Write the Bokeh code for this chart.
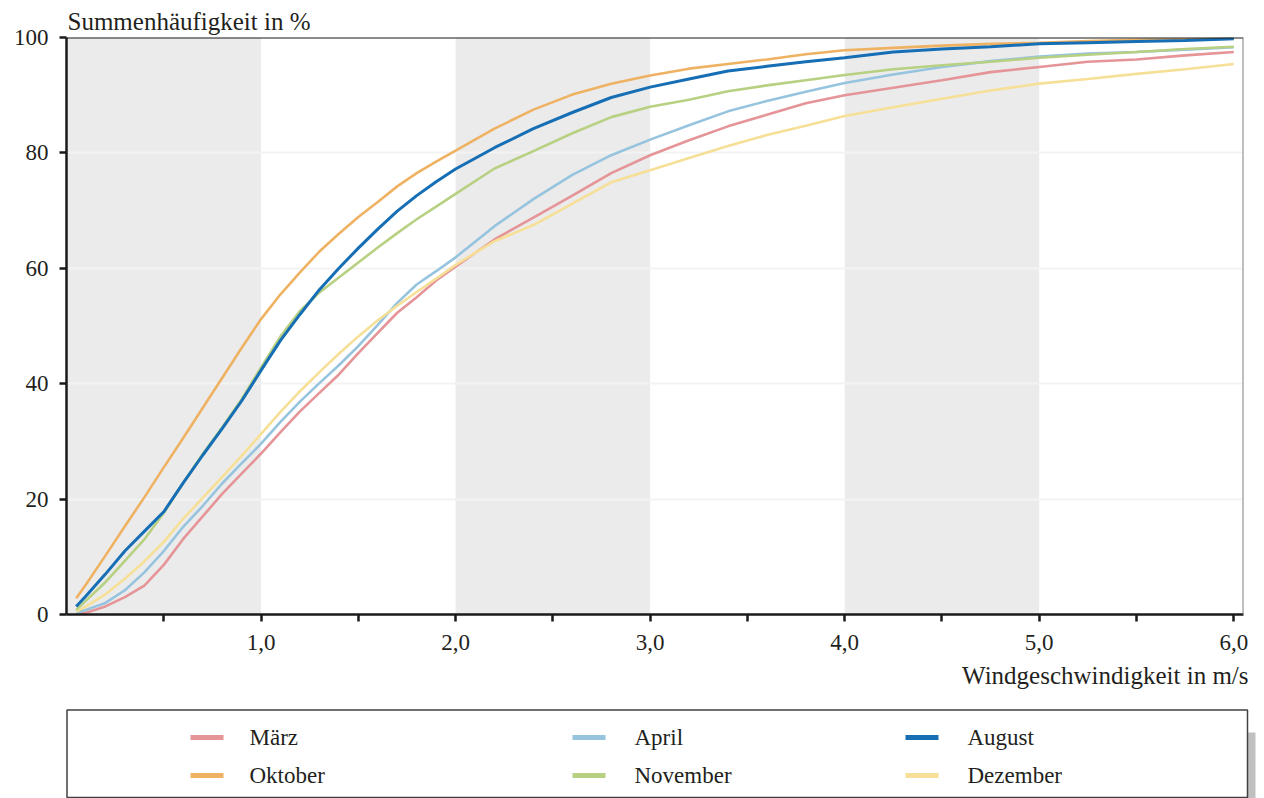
from bokeh.plotting import figure
from bokeh.models import Range1d, FixedTicker, BoxAnnotation, Span, Title, CustomJSTickFormatter
from bokeh.embed import file_html
from bokeh.resources import INLINE
from bokeh.core.properties import value

# ---------------- data ----------------
speed = [0.05, 0.1, 0.2, 0.3, 0.4, 0.5, 0.6, 0.7, 0.8, 0.9, 1.0, 1.1, 1.2, 1.3, 1.4,
         1.5, 1.6, 1.7, 1.8, 1.9, 2.0, 2.2, 2.4, 2.6, 2.8, 3.0, 3.2, 3.4, 3.6, 3.8,
         4.0, 4.25, 4.5, 4.75, 5.0, 5.25, 5.5, 5.75, 6.0]

maerz = [0.1, 0.3, 1.4, 3.0, 5.0, 8.6, 13.1, 17.0, 20.9, 24.4, 27.9, 31.6, 35.2, 38.4, 41.6,
         45.3, 48.8, 52.3, 55.0, 57.9, 60.3, 65.0, 68.8, 72.6, 76.5, 79.6, 82.2, 84.6, 86.6, 88.6,
         90.0, 91.3, 92.6, 94.0, 94.9, 95.8, 96.2, 96.9, 97.5]
april = [0.3, 0.8, 2.0, 4.2, 7.3, 11.0, 15.2, 18.8, 22.7, 26.2, 29.6, 33.4, 36.9, 40.1, 43.2,
         46.5, 50.2, 54.0, 57.2, 59.5, 61.9, 67.3, 72.0, 76.2, 79.6, 82.3, 84.8, 87.2, 89.0, 90.6,
         92.1, 93.6, 94.9, 95.9, 96.7, 97.2, 97.5, 97.9, 98.3]
august = [1.4, 3.2, 7.0, 11.0, 14.4, 17.8, 22.8, 27.6, 32.2, 37.0, 42.3, 47.5, 52.0, 56.3, 60.0,
          63.5, 66.8, 69.9, 72.6, 75.0, 77.2, 80.9, 84.2, 87.0, 89.6, 91.4, 92.8, 94.2, 95.0, 95.8,
          96.5, 97.5, 98.0, 98.4, 98.9, 99.1, 99.3, 99.5, 99.8]
oktober = [2.8, 5.2, 10.2, 15.3, 20.3, 25.5, 30.6, 35.8, 41.0, 46.2, 51.2, 55.5, 59.3, 62.9, 66.0,
           68.9, 71.5, 74.2, 76.5, 78.5, 80.4, 84.2, 87.5, 90.1, 92.0, 93.4, 94.6, 95.4, 96.2, 97.1,
           97.8, 98.2, 98.6, 98.9, 99.1, 99.4, 99.6, 99.7, 99.8]
november = [0.8, 2.4, 5.6, 9.3, 13.0, 17.6, 22.8, 27.8, 32.4, 37.3, 42.8, 48.2, 52.6, 55.8, 58.4,
            61.0, 63.6, 66.1, 68.5, 70.7, 72.9, 77.3, 80.3, 83.4, 86.2, 88.0, 89.2, 90.7, 91.7, 92.6,
            93.5, 94.5, 95.2, 95.8, 96.5, 97.0, 97.5, 98.0, 98.4]
dezember = [0.5, 1.4, 3.5, 6.2, 9.2, 12.6, 16.6, 20.2, 23.8, 27.5, 31.3, 35.1, 38.7, 42.0, 45.2,
            48.2, 51.0, 53.5, 55.9, 58.2, 60.6, 64.7, 67.5, 71.2, 74.9, 77.0, 79.1, 81.2, 83.1, 84.7,
            86.4, 87.9, 89.4, 90.8, 92.0, 92.8, 93.7, 94.5, 95.4]

months = ["März", "April", "August", "Oktober", "November", "Dezember"]
series = [maerz, april, august, oktober, november, dezember]
colors = ["#e59498", "#96c4de", "#166eb5", "#eeb262", "#b8d082", "#f6df96"]
widths = [2.6, 2.6, 3.0, 2.6, 2.6, 2.6]
draw_order = ["März", "April", "Dezember", "November", "Oktober", "August"]

band_starts = [0, 2, 4]
band_ends = [1, 3, 5]
x_ticks = [0.5, 1.0, 1.5, 2.0, 2.5, 3.0, 3.5, 4.0, 4.5, 5.0, 5.5, 6.0]
y_ticks = [0, 20, 40, 60, 80, 100]
grid_ticks = [20, 40, 60, 80]

y_title = "Summenhäufigkeit in %"
x_title = "Windgeschwindigkeit in m/s"

FONT = "Liberation Serif"
TXT = "#231f20"
X_END = 6.05

# ---------------- main chart ----------------
p = figure(width=1256, height=705, x_range=Range1d(0, X_END), y_range=Range1d(0, 100),
           output_backend="svg", toolbar_location=None,
           min_border_left=66, min_border_top=37, min_border_right=13, min_border_bottom=91)
p.outline_line_color = None
p.background_fill_color = "white"
p.border_fill_color = "white"

boxes = []
for s, e in zip(band_starts, band_ends):
    boxes.append(BoxAnnotation(left=s, right=e, fill_color="#ebebeb", fill_alpha=1.0,
                               line_color=None, level="underlay"))
p.center = boxes + list(p.center)

p.xgrid.grid_line_color = None
p.ygrid.ticker = FixedTicker(ticks=grid_ticks)
p.ygrid.grid_line_color = "#f3f3f3"
p.ygrid.grid_line_width = 2

for name in draw_order:
    i = months.index(name)
    p.line(speed, series[i], line_color=colors[i], line_width=widths[i])

p.add_layout(Span(location=100, dimension="width", line_color="#1a1a1a", line_width=2))
p.add_layout(Span(location=X_END, dimension="height", line_color="#808080", line_width=2))

xa = p.xaxis[0]
xa.ticker = FixedTicker(ticks=x_ticks)
xa.formatter = CustomJSTickFormatter(
    code="return (Math.abs(tick % 1) < 1e-9) ? tick.toFixed(1).replace('.', ',') : '';")
ya = p.yaxis[0]
ya.ticker = FixedTicker(ticks=y_ticks)
for ax in (xa, ya):
    ax.axis_line_color = "#1a1a1a"
    ax.axis_line_width = 2.5
    ax.major_tick_line_color = "#1a1a1a"
    ax.major_tick_line_width = 2.5
    ax.major_tick_out = 7
    ax.major_tick_in = 0
    ax.minor_tick_line_color = None
    ax.major_label_text_font = FONT
    ax.major_label_text_font_size = "23px"
    ax.major_label_text_color = TXT
xa.major_label_standoff = 13
ya.major_label_standoff = 11

p.title.text = y_title
p.title.align = "left"
p.title.text_font = FONT
p.title.text_font_size = "25px"
p.title.text_font_style = "normal"
p.title.text_color = TXT
p.title.offset = 1
p.title.standoff = 6

p.add_layout(Title(text=x_title, align="right", text_font=FONT, text_font_size="25px",
                   text_font_style="normal", text_color=TXT, standoff=15, offset=-5), "below")

# ---------------- legend panel (page-pixel coordinates) ----------------
LW, LH = 1256, 93
q = figure(width=LW, height=LH, x_range=Range1d(0, LW), y_range=Range1d(0, LH),
           output_backend="svg", toolbar_location=None,
           min_border_left=0, min_border_right=0, min_border_top=0, min_border_bottom=0)
q.axis.visible = False
q.grid.visible = False
q.outline_line_color = None
q.border_fill_color = "white"
q.background_fill_color = "white"

q.quad(left=[1247], right=[1255], top=[66], bottom=[0], fill_color="#c0c0c0", line_color=None)
q.quad(left=[66.5], right=[1247], top=[88.5], bottom=[1], fill_color="white",
       line_color="#404040", line_width=1.5)

col_sw = [190, 572, 905]
col_tx = [249, 634, 967]
row_y = [61, 23]
sx0, sx1, ty, tx, cl, tt = [], [], [], [], [], []
for k, name in enumerate(months):
    r, c = divmod(k, 3)
    sx0.append(col_sw[c]); sx1.append(col_sw[c] + 33); ty.append(row_y[r])
    tx.append(col_tx[c]); cl.append(colors[k]); tt.append(name)
q.segment(x0=sx0, y0=ty, x1=sx1, y1=ty, line_color=cl, line_width=5)
q.text(x=tx, y=ty, text=tt, text_font=value(FONT), text_font_size="23px",
       text_baseline="middle", text_align="left", text_color=TXT)

open("out.html", "w").write(file_html([p, q], INLINE))
